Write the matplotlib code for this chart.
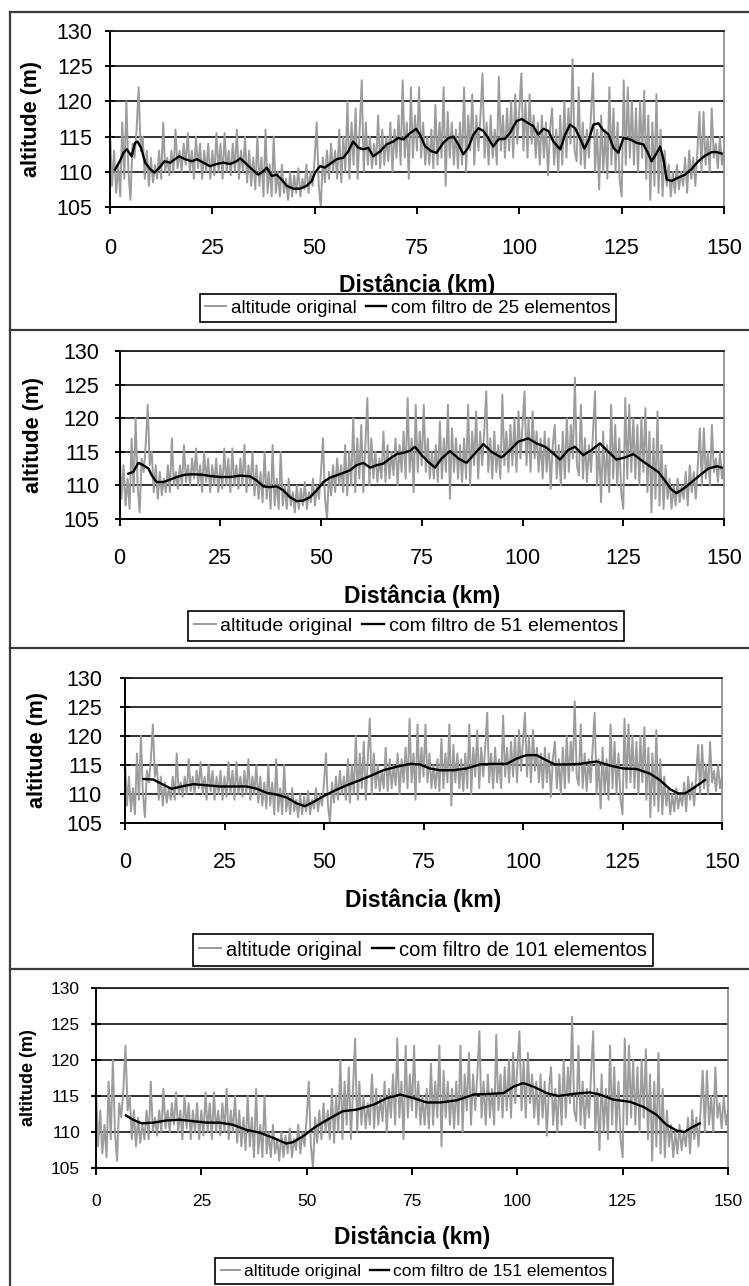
import numpy as np
import matplotlib
matplotlib.use("Agg")
from matplotlib import pyplot as plt
from matplotlib.lines import Line2D

plt.rcParams['font.family'] = ['Liberation Sans', 'DejaVu Sans']

# original altitude profile, one sample every 0.5 km
alt_original = [
    116, 108, 113, 107, 111, 106.5, 117, 109, 120, 110,
    106, 114, 112, 116, 122, 113, 115, 109, 113, 108,
    112, 108.5, 111, 109, 113, 109, 117, 110, 112, 109.5,
    113, 110, 116, 110.5, 113, 110, 114, 111, 115.5, 110,
    113, 109, 115, 110.5, 114, 109, 113, 110, 114, 109,
    113, 109.5, 115.5, 110, 114, 109, 115.5, 110, 113, 109.5,
    114, 110, 116, 109, 113, 110, 115, 108.5, 113, 108,
    112, 107.5, 115, 108, 112, 106.5, 116, 107, 111, 106.5,
    115, 107, 110, 106.5, 111, 107, 109, 106, 110, 106.5,
    109.5, 107, 110.5, 106.5, 109, 107.5, 111, 107, 110, 108,
    112, 117, 108, 105, 112, 108.5, 113, 109, 114, 110,
    113, 109, 116, 108.5, 115, 110, 120, 109, 117, 111,
    119, 109, 116, 123, 110, 117, 111, 115, 110.5, 114,
    111, 118, 110.5, 116, 111, 115, 111.5, 117, 110, 116,
    112, 118, 111, 123, 112, 117, 109, 122, 112, 118,
    113, 122, 112, 117, 111, 115, 111, 116, 110.5, 119.5,
    111, 117, 112, 122, 108, 118.5, 112, 117, 111, 116,
    110.5, 117, 111, 122, 110, 118, 113, 121, 111, 118,
    113, 118, 124, 112, 117, 111, 118, 112, 116, 111,
    123.5, 113, 118, 112, 119, 113, 120, 112, 121, 114,
    119, 124, 113, 120, 112, 121, 114, 118, 112, 117,
    111, 118, 112, 117, 109.5, 116, 119, 111, 116, 110,
    118, 111, 120, 112, 119, 114, 126, 113, 111.5, 122,
    111, 117, 110.5, 116, 112, 118, 124, 110, 116, 107.5,
    118, 110, 116, 109, 122, 111, 119, 110, 117, 109,
    106.5, 123, 111, 122, 112, 120, 111, 119, 110, 120,
    112, 121.5, 109, 118, 106, 117, 108, 121, 107, 116,
    106.5, 113, 108, 111, 106.5, 110, 107, 111, 107.5, 110,
    108, 112, 107, 113, 109, 112, 108, 113, 118.5, 110,
    118.5, 111, 115, 110, 119, 112, 114, 110.5, 115, 111,
    113,
]
km_original = np.arange(len(alt_original)) * 0.5

# filtered curves
km_f25 = [1.2, 2.4, 3.3, 4.1, 5.3, 6.1, 6.7, 7.6, 8.6, 9.8,
          10.8, 11.8, 13.3, 14.7, 15.9, 16.9, 18.3, 20.0, 21.2, 22.8,
          24.4, 26.0, 27.7, 29.3, 30.9, 31.8, 33.0, 34.6, 36.2, 37.5,
          38.3, 39.5, 40.7, 41.9, 43.2, 44.8, 46.4, 48.0, 49.3, 50.1,
          51.3, 52.5, 53.7, 55.4, 57.0, 58.2, 59.4, 60.7, 61.9, 63.1,
          64.3, 66.0, 67.6, 69.2, 70.4, 71.7, 73.3, 74.8, 75.7, 77.0,
          78.6, 79.8, 81.4, 82.7, 83.9, 85.1, 86.3, 87.5, 88.8, 90.0,
          91.2, 92.4, 93.6, 94.9, 96.5, 97.7, 99.3, 100.6, 102.2, 103.4,
          104.6, 105.9, 107.1, 108.3, 110.0, 111.2, 112.4, 113.6, 114.8, 115.9,
          117.0, 118.1, 119.3, 120.5, 121.8, 123.0, 124.2, 125.4, 127.1, 128.7,
          130.3, 131.4, 132.3, 133.6, 134.4, 135.2, 136.0, 137.2, 138.9, 140.5,
          142.1, 143.7, 145.4, 147.0, 148.2, 149.4]
alt_f25 = [110.3, 111.5, 112.7, 113.2, 112.2, 114.1, 114.3, 113.4, 111.3, 110.4,
           109.9, 110.4, 111.5, 111.3, 111.8, 112.2, 111.8, 111.5, 111.8, 111.3,
           110.8, 111.1, 111.3, 111.1, 111.5, 111.9, 111.3, 110.4, 109.6, 110.1,
           110.6, 109.4, 109.6, 108.9, 108.0, 107.6, 107.6, 108.0, 108.7, 109.9,
           110.8, 110.6, 111.1, 111.8, 112.0, 112.9, 114.3, 113.4, 113.2, 113.4,
           112.2, 112.9, 113.9, 114.3, 114.8, 114.6, 115.5, 116.1, 115.3, 113.6,
           112.9, 112.7, 114.1, 114.8, 115.0, 113.9, 112.5, 113.4, 115.3, 116.2,
           115.8, 114.8, 113.6, 114.6, 114.7, 115.5, 117.2, 117.5, 116.9, 116.5,
           115.3, 116.1, 115.8, 114.3, 113.2, 115.3, 116.7, 116.2, 114.8, 113.3,
           114.6, 116.7, 116.9, 115.9, 115.3, 113.4, 112.7, 114.8, 114.6, 114.1,
           113.9, 112.7, 111.5, 112.7, 113.6, 111.8, 108.9, 108.7, 109.2, 109.6,
           110.4, 111.5, 112.3, 112.8, 112.8, 112.6]

km_f51 = [2.2, 3.4, 4.7, 5.9, 7.2, 8.0, 9.2, 10.9, 12.5, 14.2,
          16.3, 18.3, 20.4, 22.5, 25.0, 27.4, 29.9, 32.4, 34.0, 35.7,
          37.3, 39.0, 40.7, 42.3, 44.0, 45.6, 47.3, 48.9, 50.6, 52.2,
          53.9, 55.5, 57.2, 58.8, 60.5, 62.2, 63.8, 65.5, 67.1, 68.8,
          70.4, 72.1, 73.3, 75.0, 76.6, 78.3, 79.9, 82.0, 84.1, 86.1,
          88.2, 90.3, 92.3, 94.8, 96.9, 98.9, 101.4, 103.5, 105.6, 107.2,
          109.3, 111.3, 113.0, 115.1, 117.1, 119.2, 121.3, 123.3, 125.4, 127.5,
          129.5, 131.6, 133.7, 135.3, 137.0, 138.2, 139.9, 142.0, 144.0, 146.1,
          148.2, 149.4]
alt_f51 = [111.75, 112.0, 113.35, 113.0, 112.5, 111.5, 110.5, 110.5, 110.85, 111.25,
           111.6, 111.65, 111.6, 111.4, 111.25, 111.25, 111.45, 111.35, 110.75, 109.85,
           109.75, 109.85, 109.25, 108.25, 107.65, 107.75, 108.25, 109.25, 110.5, 111.15,
           111.5, 111.85, 112.25, 113.0, 113.35, 112.65, 113.0, 113.25, 114.0, 114.65,
           114.85, 115.15, 115.75, 114.5, 113.5, 112.65, 114.0, 115.1, 114.0, 113.35,
           114.75, 116.15, 115.0, 114.15, 115.25, 116.5, 117.0, 116.25, 115.75, 115.0,
           113.85, 115.25, 115.75, 114.5, 115.25, 116.25, 115.0, 113.85, 114.15, 114.65,
           113.75, 112.85, 112.0, 110.75, 109.35, 108.85, 109.5, 110.5, 111.5, 112.5,
           112.85, 112.65]

km_f101 = [4.6, 7.1, 9.6, 11.7, 14.2, 17.2, 20.5, 23.9, 27.2, 30.6,
           33.1, 35.6, 38.1, 40.6, 43.1, 45.2, 47.3, 49.8, 52.4, 55.7,
           59.1, 61.6, 64.9, 68.3, 71.6, 74.1, 76.6, 79.1, 82.5, 85.8,
           89.2, 92.5, 95.9, 98.4, 100.9, 103.4, 105.9, 108.0, 111.0, 114.3,
           118.5, 121.9, 125.2, 128.6, 131.9, 134.4, 137.0, 139.0, 140.7, 142.8,
           145.7]
alt_f101 = [112.6, 112.5, 111.6, 110.9, 111.3, 111.7, 111.5, 111.3, 111.3, 111.3,
            110.9, 110.2, 109.9, 109.4, 108.4, 107.9, 108.6, 109.6, 110.5, 111.5,
            112.4, 113.1, 114.1, 114.7, 115.2, 115.1, 114.4, 114.1, 114.1, 114.4,
            115.1, 115.2, 115.2, 116.1, 116.7, 116.7, 115.8, 115.1, 115.1, 115.2,
            115.6, 114.9, 114.4, 114.3, 113.5, 112.4, 110.8, 110.1, 110.1, 111.0,
            112.4]

km_f151 = [7.1, 8.8, 10.8, 13.6, 16.7, 19.9, 23.1, 26.2, 29.4, 32.5,
           35.7, 38.9, 42.0, 45.2, 46.8, 49.1, 52.3, 55.5, 58.6, 61.8,
           65.9, 69.0, 72.2, 75.4, 78.5, 81.7, 85.6, 89.6, 93.5, 96.7,
           99.1, 101.4, 103.8, 107.0, 109.7, 113.3, 117.2, 119.6, 122.8, 126.7,
           129.9, 133.0, 135.4, 137.8, 139.7, 141.3, 143.3]
alt_f151 = [112.3, 111.7, 111.2, 111.3, 111.6, 111.7, 111.5, 111.3, 111.3, 111.0,
            110.3, 109.9, 109.2, 108.4, 108.6, 109.4, 110.8, 111.9, 112.9, 113.1,
            113.8, 114.7, 115.2, 114.7, 114.1, 114.1, 114.4, 115.2, 115.3, 115.4,
            116.3, 116.8, 116.3, 115.4, 115.0, 115.3, 115.5, 115.2, 114.5, 114.2,
            113.5, 112.4, 111.0, 110.2, 110.0, 110.6, 111.2]

filters = [(25, km_f25, alt_f25), (51, km_f51, alt_f51),
           (101, km_f101, alt_f101), (151, km_f151, alt_f151)]

x_ticks = [0, 25, 50, 75, 100, 125, 150]
y_ticks = [105, 110, 115, 120, 125, 130]

W, H = 749, 1286
fig = plt.figure(figsize=(W / 100, H / 100), dpi=100)

# panel layout in pixels: axes left, right, top, bottom
boxes = [(110, 724, 31, 207), (119.5, 724, 351, 519),
         (125, 722, 678, 823), (96, 728, 988, 1168)]
tick_fs = [15.5, 15.5, 15.5, 12.5]
ylab_fs = [15.5, 15.5, 15.5, 13]
xlab_fs = [16.5, 16.5, 16.5, 16.5]
leg_fs = [13.5, 14, 14.5, 12.5]
ylab_x = [31, 34, 38, 28]
xlab_y = [285, 596, 900, 1237]
xpad = [17, 16, 16, 14]
ypad = [9, 11, 13, 8]
leg_xy = [(408, 308), (406, 626), (423, 950), (414, 1271)]

gray = '#9c9c9c'
for i, (n, kf, af) in enumerate(filters):
    l, r, t, b = boxes[i]
    ax = fig.add_axes([l / W, 1 - b / H, (r - l) / W, (b - t) / H])
    ax.plot(km_original, alt_original, color=gray, lw=1.4, label='altitude original')
    ax.plot(kf, af, color='black', lw=1.7, label='com filtro de %d elementos' % n)
    ax.set_xlim(0, 150)
    ax.set_ylim(105, 130)
    ax.set_xticks(x_ticks)
    ax.set_yticks(y_ticks)
    ax.yaxis.grid(True, color='#222222', lw=1.3)
    ax.set_axisbelow(True)
    for s in ['left', 'bottom']:
        ax.spines[s].set_color('black')
        ax.spines[s].set_linewidth(1.4)
    ax.spines['top'].set_color('#222222')
    ax.spines['top'].set_linewidth(1.3)
    ax.spines['right'].set_color('#888888')
    ax.spines['right'].set_linewidth(1.2)
    ax.tick_params(axis='x', direction='out', length=5, width=1.4,
                   pad=xpad[i], labelsize=tick_fs[i])
    ax.tick_params(axis='y', direction='inout', length=7, width=1.4,
                   pad=ypad[i], labelsize=tick_fs[i])
    ax.set_ylabel('altitude (m)', fontsize=ylab_fs[i], fontweight='bold')
    ax.yaxis.set_label_coords((ylab_x[i] - l) / (r - l), 0.5)
    ax.yaxis.label.set_va('center')
    ax.set_xlabel('Distância (km)', fontsize=xlab_fs[i], fontweight='bold')
    ax.xaxis.set_label_coords(0.5, -(xlab_y[i] - b) / (b - t))
    ax.xaxis.label.set_va('center')

    lx, ly = leg_xy[i]
    leg = ax.legend(loc='center', bbox_to_anchor=(lx / W, 1 - ly / H),
                    bbox_transform=fig.transFigure, ncol=2, fontsize=leg_fs[i],
                    handlelength=1.1, handletextpad=0.25, columnspacing=0.5,
                    borderpad=0.3, fancybox=False, framealpha=1)
    leg.get_frame().set_edgecolor('black')
    leg.get_frame().set_linewidth(1.2)

# outer frame and panel separators
fc = '#3a3a3a'
fig.add_artist(Line2D([10 / W, 10 / W], [0, 1 - 12 / H], color=fc, lw=1.6))
for yy in [12, 330, 648, 969]:
    fig.add_artist(Line2D([10 / W, 1], [1 - yy / H, 1 - yy / H], color=fc, lw=1.6))

plt.savefig('out.png', dpi=100)
